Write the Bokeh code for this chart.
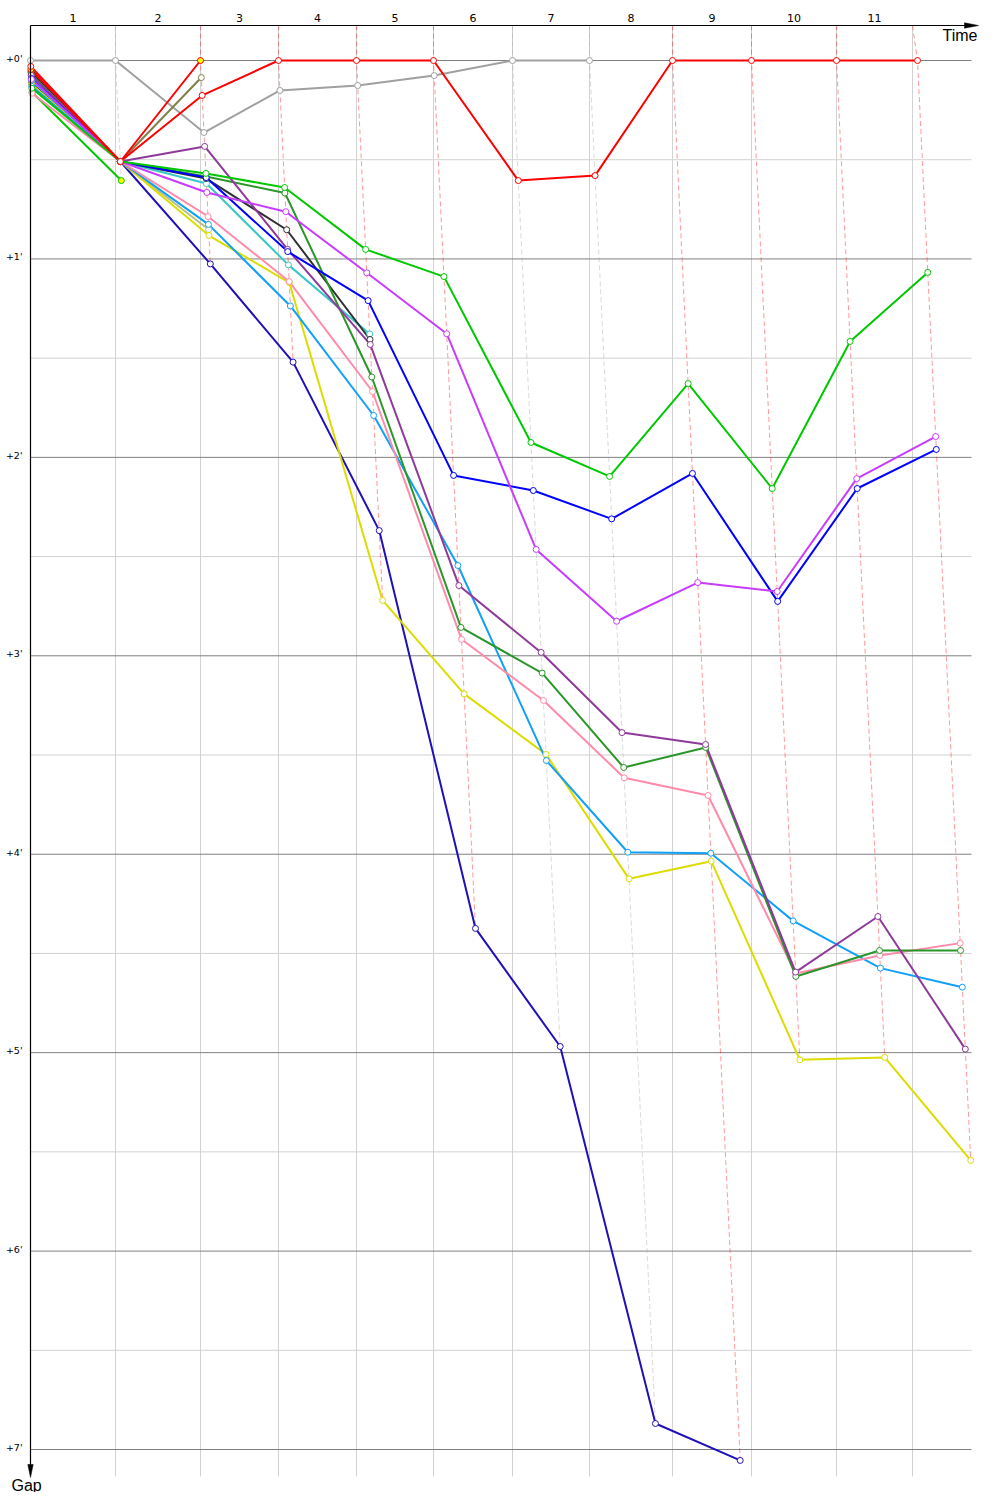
from bokeh.plotting import figure
from bokeh.models import Range1d
from bokeh.embed import file_html
from bokeh.resources import INLINE
from bokeh.core.properties import value

# ---------------- data ----------------
# leader's lap-completion times (minutes), laps 0..11
lead_times = [0.0, 8.854, 17.708, 25.833, 33.958, 41.979, 50.208, 58.229,
              66.875, 75.104, 83.958, 92.396]
# vertical reference lines (lap times on the time axis)
grid_times = [0.0, 8.854, 17.708, 25.833, 33.958, 41.979, 50.208, 58.229,
              66.875, 75.104, 83.958, 91.875]
lap_labels = ["1", "2", "3", "4", "5", "6", "7", "8", "9", "10", "11"]
gap_ticks = [0, 1, 2, 3, 4, 5, 6, 7]
gap_labels = ["+0'", "+1'", "+2'", "+3'", "+4'", "+5'", "+6'", "+7'"]

# gap to leader (minutes) at the end of each lap (lap 0 = start)
gaps_gray = [0.0, 0.0, 0.363, 0.151, 0.126, 0.076, 0.0, 0.0]
gaps_red_a = [0.045, 0.509, 0.0]
gaps_red_b = [0.03, 0.509, 0.176, 0.0, 0.0, 0.0, 0.605, 0.580, 0.0, 0.0, 0.0, 0.0]
gaps_olive = [0.055, 0.509, 0.086]
gaps_green_c = [0.16, 0.605]
gaps_khaki = [0.11, 0.509, 0.852]
gaps_black = [0.06, 0.509, 0.595, 0.853, 1.406]
gaps_cyan = [0.10, 0.509, 0.620, 1.030, 1.378]
gaps_green_d = [0.14, 0.509, 0.569, 0.640, 0.952, 1.089, 1.925, 2.096, 1.628, 2.157, 1.416, 1.068]
gaps_dkgreen = [0.07, 0.509, 0.585, 0.668, 1.595, 2.857, 3.087, 3.563, 3.462, 4.616, 4.485, 4.485]
gaps_purple = [0.075, 0.509, 0.433, 0.952, 1.431, 2.646, 2.983, 3.387, 3.447, 4.594, 4.314, 4.982]
gaps_violet = [0.095, 0.509, 0.665, 0.762, 1.070, 1.377, 2.464, 2.826, 2.631, 2.676, 2.107, 1.895]
gaps_blue = [0.09, 0.509, 0.590, 0.963, 1.210, 2.091, 2.167, 2.310, 2.081, 2.726, 2.157, 1.960]
gaps_pink = [0.165, 0.509, 0.786, 1.114, 1.668, 2.917, 3.225, 3.615, 3.704, 4.601, 4.510, 4.448]
gaps_ltblue = [0.13, 0.509, 0.826, 1.237, 1.789, 2.545, 3.528, 3.990, 3.995, 4.336, 4.574, 4.670]
gaps_yellow = [0.12, 0.509, 0.882, 1.119, 2.721, 3.192, 3.497, 4.124, 4.035, 5.036, 5.024, 5.543]
gaps_navy = [0.115, 0.509, 1.025, 1.520, 2.369, 4.374, 4.969, 6.869, 7.055]

# (gaps, line colour, marker fill)
riders = [
    (gaps_gray, "#a0a0a0", "white"),
    (gaps_olive, "#808048", "white"),
    (gaps_khaki, "#b8c080", "white"),
    (gaps_green_c, "#00c800", "#ffff00"),
    (gaps_navy, "#2010b8", "white"),
    (gaps_yellow, "#dcdc00", "white"),
    (gaps_ltblue, "#10a0f8", "white"),
    (gaps_pink, "#ff8aaa", "white"),
    (gaps_cyan, "#38c8c8", "white"),
    (gaps_black, "#303030", "white"),
    (gaps_dkgreen, "#2a962a", "white"),
    (gaps_purple, "#8e3a9a", "white"),
    (gaps_blue, "#0000ff", "white"),
    (gaps_violet, "#c83cff", "white"),
    (gaps_green_d, "#00c800", "white"),
    (gaps_red_a, "#ff0000", "#ffff00"),
    (gaps_red_b, "#ff0000", "white"),
]

# ---------------- layout ----------------
W, H = 992, 1492
OX, OY = 30, 60          # canvas pixel of time 0 / gap 0
SX, SY = 9.6, 198.43     # pixels per minute (x, y)


def tx(px):
    return (px - OX) / SX


def gy(py):
    return (py - OY) / SY


AXIS_TOP = gy(25)
PLOT_BOTTOM = gy(1476)
PLOT_RIGHT = tx(971)

p = figure(width=W, height=H,
           x_range=Range1d(tx(0), tx(W)), y_range=Range1d(gy(H), gy(0)),
           x_axis_type=None, y_axis_type=None,
           output_backend="svg", toolbar_location=None,
           min_border=0, outline_line_color=None)
p.background_fill_color = "white"
p.border_fill_color = "white"

# grid
minor = [t + 0.5 for t in gap_ticks[:-1]]
p.segment(x0=0, x1=PLOT_RIGHT, y0=minor, y1=minor, line_color="#d2d2d2", line_width=1)
vx = grid_times[1:]
p.segment(x0=vx, x1=vx, y0=AXIS_TOP, y1=PLOT_BOTTOM, line_color="#d2d2d2", line_width=1)
p.segment(x0=0, x1=PLOT_RIGHT, y0=gap_ticks, y1=gap_ticks, line_color="#808080", line_width=1)

# lap lines (dashed), coloured after the lap leader
lap_xs, lap_ys, lap_cols = [], [], []
for k in range(1, len(lead_times)):
    pts = [(lead_times[k] + g[k], g[k], c) for (g, c, f) in riders if len(g) > k]
    pts.sort(key=lambda q: q[1])
    lap_xs.append([grid_times[k]] + [q[0] for q in pts])
    lap_ys.append([AXIS_TOP] + [q[1] for q in pts])
    lap_cols.append(pts[0][2])
p.multi_line(xs=lap_xs, ys=lap_ys, line_color=lap_cols, line_alpha=0.4,
             line_width=1, line_dash="5 3")

# rider lines and markers
for g, c, f in riders:
    xs = [lead_times[k] + g[k] for k in range(len(g))]
    p.line(xs, g, line_color=c, line_width=2)
for g, c, f in riders:
    xs = [lead_times[k] + g[k] for k in range(len(g))]
    p.scatter(xs, g, marker="circle", size=6, fill_color=f, line_color=c, line_width=1)

# axes
p.line([0, tx(966)], [AXIS_TOP, AXIS_TOP], line_color="black", line_width=1.2)
p.patch([tx(978), tx(964), tx(964)], [AXIS_TOP, gy(22.3), gy(27.7)],
        fill_color="black", line_color="black", line_width=0.5)
p.line([0, 0], [AXIS_TOP, gy(1466)], line_color="black", line_width=1.2)
p.patch([0, tx(27.3), tx(32.7)], [gy(1477), gy(1464), gy(1464)],
        fill_color="black", line_color="black", line_width=0.5)

# tick labels
mids = [(grid_times[k - 1] + grid_times[k]) / 2 for k in range(1, len(grid_times))]
p.text(x=mids, y=[AXIS_TOP] * len(mids), text=lap_labels, text_align="center",
       text_baseline="middle", y_offset=-8, text_font=value("DejaVu Sans"),
       text_font_size=value("11px"), text_color="black")
p.text(x=[0] * len(gap_ticks), y=gap_ticks, text=gap_labels, text_align="right",
       text_baseline="middle", x_offset=-8, y_offset=-2,
       text_font=value("DejaVu Sans"), text_font_size=value("9.5px"), text_color="black")

# axis titles
p.text(x=[tx(977)], y=[AXIS_TOP], text=["Time"], text_align="right", text_baseline="top",
       y_offset=1, text_font=value("Liberation Sans"), text_font_size=value("16px"),
       text_color="black")
p.text(x=[0], y=[PLOT_BOTTOM], text=["Gap"], text_align="left", text_baseline="top",
       x_offset=-19, y_offset=0, text_font=value("Liberation Sans"),
       text_font_size=value("16px"), text_color="black")

open("out.html", "w").write(file_html(p, INLINE))
